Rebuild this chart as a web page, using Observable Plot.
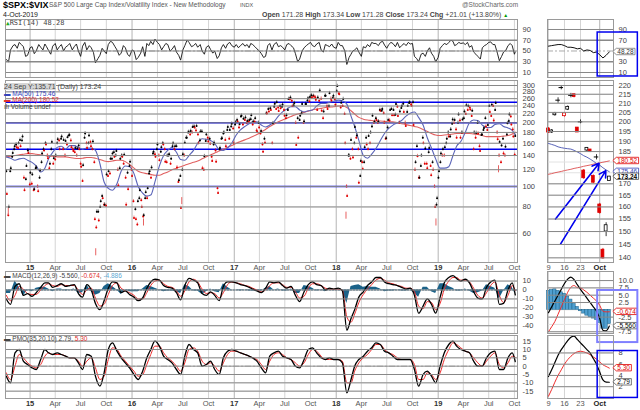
<!DOCTYPE html>
<html><head><meta charset="utf-8">
<script src="https://cdn.jsdelivr.net/npm/d3@7"></script>
<script src="https://cdn.jsdelivr.net/npm/@observablehq/plot@0.6"></script>
<style>
body{margin:0;background:#fff;}
#root{position:relative;width:640px;height:410px;overflow:hidden;font-family:"Liberation Sans",Arial,sans-serif;color:#222;}
.abs{position:absolute;white-space:nowrap;line-height:1;}
.abs svg{display:block;overflow:visible;}
</style></head><body><div id="root"></div>
<script>
// ---------- DATA ----------
// Weekly closes ($SPX:$VIX), Fridays from 10-Oct-2014 to 4-Oct-2019
const close2014 = [92,80,122,144, 155,153,160,155, 172,96,125,144];
const close2015 = [116,114,97,123,95, 119,143,148,158, 136,128,162,136, 140,167,150,172, 166,164,171,175,153, 147,152,151,150, 124,126,178,152,174, 155,163,70,76, 69,85,88,82, 114,118,135,143,138, 147,101,135,138, 141,82,97,131];
const close2016 = [112,71,70,85,96, 80,73,94,98, 118,123,146,138, 158,133,153,158,131, 140,142,135,160, 155,123,107,79, 142,161,170,181,183, 191,190,193,160, 182,122,139,176,163, 159,132,161,131, 93,152,169,180, 155,191,185,198,160];
const close2017 = [201,203,197,216, 209,212,204,206, 217,203,210,181,190, 183,146,161,221, 226,230,199,246, 250,227,234,244,216, 217,259,263,240, 248,157,170,216, 245,203,245,261,265, 264,266,257,263, 284,228,226,268, 232,276,255,268,243];
const close2018 = [298,273,249,259, 160,90,140,166, 137,191,174,104,132, 121,153,158,173, 180,216,202,206, 203,228,232,200,169, 206,230,217,217, 245,215,226,240,225, 193,240,250,241, 195,130,139,110, 140,160,151,122,152, 113,120,80,88];
const close2019 = [118,143,150,153, 168,172,186,207, 206,170,219,170,207, 226,242,240,231, 228,180,179,178,147, 176,189,192,195, 225,243,205,248, 167,162,156,143,154, 199,219,196,172, 173.24];
// Mid-week closes (Wednesdays), 8-Oct-2014 to 2-Oct-2019
const mid2014 = [118,73,118,138, 150,158,152,166, 165,110,108,148];
const mid2015 = [102,103,96,122,100, 110,130,150,160, 140,122,150,128, 134,160,165,168, 150,140,158,174,165, 150,145,140,156, 128,106,170,160,160, 162,150,130,64, 76,80,90,82, 81,112,115,135,145, 140,120,122,140, 128,110,116,125];
const mid2016 = [120,85,78,66,88, 86,72,88,88, 115,110,143,142, 150,140,146,160,150, 130,140,128,155, 150,155,105,112, 120,140,170,180,176, 180,192,184,176, 165,182,120,164,170, 168,138,158,148, 98,150,168,178, 166,185,168,192,188];
const mid2017 = [196,206,190,214, 196,206,200,202, 208,196,202,184,200, 178,158,168,222, 232,234,160,238, 232,236,240,238,230, 210,230,258,254, 242,200,210,206, 222,200,245,255,252, 270,268,264,230, 254,260,210,268, 240,240,260,262,258];
const mid2018 = [282,275,236,240, 220,100,140,135, 150,160,170,150,112, 130,130,170,150, 160,192,200,210, 200,230,228,222,168, 190,205,232,230, 218,238,200,235,246, 200,225,248,244, 250,120,155,110, 125,170,128,128,145, 125,130,100,82];
const mid2019 = [110,130,140,140, 160,180,172,198, 200,186,200,205,180, 210,220,230,236, 215,150,170,200,155, 175,185,210,185, 240,215,240,230, 180,140,130,168,140, 176,204,214,186, 141];
// Daily extremes (intraday spikes)
const spikeDates = ["2014-10-15","2015-08-24","2016-02-11","2016-06-27","2018-02-05","2018-12-24","2019-08-05"];
const spikeValues = [73,47,65,82,70,65,116];

// Semi-monthly samples (8th and 23rd of each month), Oct 2014 .. Sep 2019, plus 4-Oct-2019
const ma50 = [138,136,133,135,136,133,
 130,125,117,122,135,145,153,155,150,156,156,153,150,152,152,148,128,105,98,96,103,118,125,124,
 115,100,93,90,91,105,125,140,148,153,145,134,133,140,148,160,168,167,165,160,149,148,152,160,
 175,185,192,198,202,202,195,191,195,202,215,225,232,238,238,230,225,228,230,240,247,247,250,253,
 256,254,245,215,192,165,140,136,142,151,165,178,188,195,200,205,215,222,225,212,195,170,152,135,
 122,122,124,140,155,163,180,200,206,205,195,190,190,196,198,192,189,184,175.46];
const ma200 = [138,139,140,141,142,143,
 143,142,141,140,139,139,138,138,138,137,136,135.6,136,137,137,136,134,132,131,132,133,133,131,127,
 122,118,116,115,114,113,113,115,117,120,122,124,126,128,130,132,135,138,141,144,147,150,153,156,
 160,163,166,169,172,176,181,186,192,197,202,206,210,214,218,221,224,227,230,232,234,236,237,238,
 240,240,236,228,220,212,208,206,205,204,204,203,202,202,200,198,196,194,192,190,186,182,178,175,
 174,175,176,177,178,178,178,178,177,176,174,172,172,172,172,173,174,177,180.52];
const rsi = [34,52,62,66,58,42,
 58,50,57,63,51,59,52,62,57,64,58,50,59,52,56,28,42,50,62,66,52,46,56,40,
 50,38,58,64,68,72,62,58,62,53,48,33,60,66,60,57,50,57,53,50,41,62,63,60,
 62,60,59,56,62,54,45,40,64,62,58,57,62,60,45,35,56,63,60,63,52,62,58,57,
 66,60,25,44,52,48,58,62,66,64,66,61,62,64,66,60,60,63,40,30,46,50,46,30,
 55,64,66,68,62,64,62,57,48,40,56,62,67,62,32,48,60,60,48.28];
// RSI on the 16th and 1st of each month (16-Oct-2014 .. 1-Oct-2019)
const rsiMid = [30,60,55,62,40,56,
 45,62,52,58,44,64,58,50,60,52,63,40,66,60,47,36,55,45,68,58,42,60,44,52,
 34,46,40,60,62,66,52,64,50,60,42,52,70,58,64,62,44,60,46,36,56,55,66,57,
 56,64,62,64,58,50,38,60,52,66,60,52,64,56,30,50,60,66,58,66,48,60,63,55,
 60,50,38,50,56,40,56,58,64,60,68,55,66,58,56,64,66,64,36,44,40,56,40,38,
 60,62,70,60,66,65,66,60,44,35,60,66,62,46,40,52,64,44];
const macd = [-10,-16,4,7,-6,-4,
 -7,-3,3,8,8,3,5,7,4,5,6,-4,-8,6,0,-15,-22,-12,2,9,8,-3,-1,-5,
 -8,-12,-9,2,9,12,11,5,3,2,-3,-11,5,13,11,8,-4,-6,-2,-6,-12,4,9,9,
 8,6,5,3,1,-1,-3,2,9,8,9,5,2,4,-6,-13,-2,6,9,6,5,0,2,1,
 2,-1,-45,-32,-22,-8,-2,5,9,14,14,9,7,6,5,3,1,2,-6,-26,-18,-10,-16,-26,
 -8,8,14,16,13,10,12,8,-2,-9,-10,3,9,11,-16,-15,0,8,-5.56];
const macdSignal = [-6,-12,-6,4,1,-4,
 -5,-5,0,5,7,5,4,6,5,5,5,0,-5,0,2,-9,-18,-16,-5,5,8,2,-1,-3,
 -6,-10,-10,-3,5,10,11,7,4,3,-1,-7,-1,9,12,9,1,-4,-3,-4,-9,-3,6,9,
 8,7,5,4,2,0,-2,0,5,8,8,6,3,3,-2,-9,-7,2,7,7,5,2,1,1,
 1,0,-30,-36,-27,-14,-5,1,6,11,13,11,8,7,5,4,2,2,-2,-18,-21,-13,-14,-22,
 -15,1,10,14,14,11,11,9,2,-6,-9,-3,5,9,-6,-14,-6,5,-0.674];
const macdHist = [-4,-4,10,3,-7,0,
 -2,2,3,3,1,-2,1,1,-1,0,1,-4,-3,6,-2,-6,-4,4,7,4,0,-5,0,-2,
 -2,-2,1,5,4,2,0,-2,-1,-1,-2,-4,6,4,-1,-1,-5,-2,1,-2,-3,7,3,0,
 0,-1,0,-1,-1,-1,-1,2,4,0,1,-1,-1,1,-4,-4,5,4,2,-1,0,-2,1,0,
 1,-1,-15,4,5,6,3,4,3,3,1,-2,-1,-1,0,-1,-1,0,-4,-8,3,3,-2,-4,
 7,7,4,2,-1,-1,1,-1,-4,-3,-1,6,4,2,-10,-1,6,3,-4.886];
const pmo = [-6,-10,8,10,3,1,
 -1,-2,4,10,8,7,8,7,6,5,5,2,-2,7,6,-6,-12,-4,10,14,9,5,2,-1,
 -5,-8,-3,5,10,15,12,6,4,2,-2,-5,6,13,10,8,0,1,3,-2,-5,5,9,10,
 9,8,7,6,5,3,-1,-4,6,8,9,6,5,4,0,-1,4,10,11,8,5,4,5,4,
 4,2,-16,-8,0,4,6,9,11,14,13,9,8,6,4,4,4,4,-2,-12,-5,-3,-6,-10,
 0,8,13,15,12,10,9,8,3,0,0,5,8,9,-2,-2,5,8,2.79];
const pmoSignal = [-4,-8,0,7,5,2,
 0,-1,1,6,8,7,7,7,6,5,5,3,0,3,5,-1,-8,-6,4,11,10,6,3,0,
 -3,-6,-5,1,7,12,12,8,5,3,0,-3,2,10,11,9,3,1,2,0,-3,2,7,9,
 9,8,7,6,5,4,1,-2,3,7,8,7,5,4,2,0,2,7,10,9,6,4,4,4,
 4,3,-10,-10,-3,2,5,7,10,13,13,10,8,7,5,4,4,4,1,-8,-8,-4,-5,-8,
 -4,4,10,14,13,11,9,8,5,2,0,3,6,8,1,-1,2,6,5.30];

// Zoom panel: trading days 9-Sep-2019 .. 4-Oct-2019
const miniOpen  = [196.5,194.5,203.5,211.5,218.5,203,206.5,214.2,215,197,199.8,176,185.5,186,173.5,182.1,161,143,150,171.28];
const miniClose = [194.5,195.5,204.5,211.7,218.8,204.5,208,214.4,213.5,194.5,200,172.5,186.8,184.8,170.5,182.4,157.5,139.8,152.5,173.24];
const miniHigh  = [197,196,205,213,220,205,208.5,215.5,215,197,201,176.5,187,186,174,183.5,161.5,143.5,153.5,173.34];
const miniLow   = [194,194,203,210,217.5,202.5,206,213,213,194.5,199,172,185,184.5,170,181,157,139.5,148,171.28];
const miniPrevClose = 199;
const miniMa50  = [189,188.5,188,187.3,186.9,186.6,186.4,186.2,185.6,184.8,184,183,182.3,181.4,180.4,179.3,178.5,177.3,176.3,175.46];
const miniMa200 = [174.3,174.6,175,175.3,175.6,176,176.3,176.6,177,177.3,177.6,178,178.3,178.6,179,179.3,179.6,179.9,180.2,180.52];
const miniRsi   = [59,60,61,62,62,60,57,57,56,54,55,50,52,51,47,48,43,37,42,48.28];
const miniMacd  = [-1,1,3,5,7,9,10.5,11.2,10.3,8.6,7,5.5,4,2.5,1,-0.5,-3,-7,-7.2,-5.56];
const miniSignal= [-7.5,-5.8,-4,-1.5,1,3.5,6,7.7,8.3,7.6,7.5,6.8,6,5,4,3,1.5,-0.5,-0.7,-0.674];
const miniHist  = [6.5,6.8,7,6.5,6,5.5,4.5,3.5,2,1,-0.5,-1.3,-2,-2.5,-3,-3.5,-4.5,-6.5,-6.5,-4.886];
const miniPmo   = [3.8,5,6.3,7.6,8.6,9.4,10.2,10.8,11,10.4,9.8,9.2,8.6,8,7,6,4.6,3.2,2.8,2.79];
const miniPmoSig= [0.3,1.5,2.8,4,5,6,6.8,7.4,7.9,8.2,8.3,8.2,8,7.7,7.3,6.9,6.4,5.9,5.6,5.3];

// annotations on the zoom panel (index, value)
const arrowsFrom = [[2.2,155],[3.8,145.2]];
const arrowsTo   = [[15.8,179.4],[17.9,176]];

// axis ticks & labels
const monthNames = ["Jan","Feb","Mar","Apr","May","Jun","Jul","Aug","Sep","Oct","Nov","Dec"];
const priceTicks = [300,280,260,240,220,200,180,160,140,120,100,80,60];
const blueLevels = [250,200,150,100];
const rsiTicks = [90,70,50,30,10];
const macdTicks = [10,0,-10,-20,-30,-40];
const pmoTicks = [15,10,5,0,-5,-10,-15];
const miniRsiTicks = [90,70,30,10];
const miniPriceTicks = [220,215,210,205,200,195,190,185,170,165,160,155,150,145,140];
const miniPriceGrid = [220,215,210,205,200,195,190,185,180,175,170,165,160,155,150,145,140];
const miniMacdTicks = [10,7.5,5,2.5,-2.5,-7.5];
const miniMacdGrid = [10,7.5,5,2.5,0,-2.5,-5,-7.5];
const miniPmoTicks = [8,6,4,2];
const miniXTicks = [0,5,10,16];
const miniXLabels = ["9","16","23","Oct"];

// ---------- BUILD ----------
const closes = [...close2014,...close2015,...close2016,...close2017,...close2018,...close2019];
const mids = [...mid2014,...mid2015,...mid2016,...mid2017,...mid2018,...mid2019];
const pts = [];
closes.forEach((c,i)=>{
  pts.push({date:new Date(Date.UTC(2014,9,8+7*i)), close:mids[i]});
  pts.push({date:new Date(Date.UTC(2014,9,10+7*i)), close:c});
});
pts.forEach((p,k)=>{ p.color = k===0 || p.close>=pts[k-1].close ? "#000" : "#e00000"; });
const spikes = spikeDates.map((d,i)=>({date:new Date(d), v:spikeValues[i]}));
const semi = ma50.map((_,k)=>({
  date: k<120 ? new Date(Date.UTC(2014,9+Math.floor(k/2),k%2?23:8)) : new Date(Date.UTC(2019,9,4)),
  ma50:ma50[k], ma200:ma200[k], rsi:rsi[k], macd:macd[k], sig:macdSignal[k], hist:macdHist[k], pmo:pmo[k], pmoSig:pmoSignal[k]}));
const rsiSeries = semi.map(d=>({date:d.date, rsi:d.rsi}))
  .concat(rsiMid.map((v,k)=>({date: k%2===0 ? new Date(Date.UTC(2014,9+k/2,16)) : new Date(Date.UTC(2014,9+(k+1)/2,1)), rsi:v})))
  .sort((a,b)=>a.date-b.date);
const mini = miniClose.map((c,i)=>{
  const prev = i? miniClose[i-1] : miniPrevClose;
  return {i, open:miniOpen[i], close:c, high:miniHigh[i], low:miniLow[i],
    color: c>=prev ? "#000" : "#e00000", hollow: c>miniOpen[i], doji: Math.abs(c-miniOpen[i])<0.5,
    ma50:miniMa50[i], ma200:miniMa200[i], rsi:miniRsi[i], macd:miniMacd[i], sig:miniSignal[i], hist:miniHist[i], pmo:miniPmo[i], pmoSig:miniPmoSig[i]};
});

const xDomain = [new Date(Date.UTC(2014,9,5)), new Date(Date.UTC(2019,9,12))];
const quarterTicks = [];
for (let y=2015;y<=2019;y++) for (const m of [0,3,6,9]) quarterTicks.push(new Date(Date.UTC(y,m,1)));
const yearTicks = quarterTicks.filter(d=>d.getUTCMonth()===0);
const monthTicks = quarterTicks.filter(d=>d.getUTCMonth()!==0);
const fmtDate = d => d.getUTCMonth()===0 ? String(d.getUTCFullYear()).slice(2) : monthNames[d.getUTCMonth()];

const root = document.getElementById("root");
function place(node, left, top){
  const d=document.createElement("div"); d.className="abs";
  d.style.left=left+"px"; d.style.top=top+"px"; d.appendChild(node); root.appendChild(d); return node;
}
function txt(html,left,top,style){
  const d=document.createElement("div"); d.className="abs";
  d.style.cssText+=`left:${left}px;top:${top}px;${style||""}`; d.innerHTML=html; root.appendChild(d);
}
// draws arrow-shaped value boxes behind the right-edge value labels
function boxLabels(svg, specs){
  const NS="http://www.w3.org/2000/svg";
  svg.querySelectorAll("text").forEach(t=>{
    const spec = specs.find(s=>s.t===t.textContent.trim());
    if (!spec) return;
    const b=t.getBBox();
    const p=document.createElementNS(NS,"path");
    const x0=b.x-1,x1=b.x+b.width+1,y0=b.y+0.3,y1=b.y+b.height-0.3,cy=(y0+y1)/2;
    p.setAttribute("d",`M${x0-3.5},${cy}L${x0},${y0}H${x1}V${y1}H${x0}Z`);
    p.setAttribute("fill","#fff"); p.setAttribute("stroke",spec.c); p.setAttribute("stroke-width","0.8");
    const tr=t.getAttribute("transform"); if (tr) p.setAttribute("transform",tr);
    t.parentNode.insertBefore(p,t);
  });
}
const baseStyle = {fontSize:"7.5px", fontFamily:"'Liberation Sans', Arial, sans-serif", background:"transparent", color:"#444", overflow:"visible"};
const GRID = "#e2e2e2", QGRID="#d4d4d4", YGRID="#b4b4b4", FRAME="#9a9a9a";
const leftGrid = () => [
  Plot.gridX(monthTicks,{stroke:QGRID,strokeOpacity:1}),
  Plot.gridX(yearTicks,{stroke:YGRID,strokeOpacity:1})
];
const yLabels = (ticks, fmt) => [
  Plot.tickY(ticks,{y:d=>d,frameAnchor:"right",stroke:"#888"}),
  Plot.text(ticks,{y:d=>d,text:fmt||(d=>String(d)),frameAnchor:"right",dx:5,textAnchor:"start",fill:"#444"})
];
const L = {width:545, marginLeft:5, marginRight:28, marginTop:0};
const R = {width:100, marginLeft:7, marginRight:27, marginTop:0};
const miniX = {type:"linear", domain:[-0.3,20.3]};
const miniGrid = () => [
  Plot.gridX(miniXTicks.slice(0,3),{stroke:QGRID,strokeOpacity:1}),
  Plot.gridX([16],{stroke:YGRID,strokeOpacity:1})
];
const vlabel = (data, fill, extra) => Plot.text(data,{x:"i",y:"v",text:"t",dx:8,textAnchor:"start",fontSize:6.5,fill,...(extra||{})});

// ---- LEFT PANELS ----
// RSI
place(Plot.plot({...L, height:58, marginBottom:0, style:baseStyle,
  x:{type:"utc",domain:xDomain,axis:null}, y:{domain:[0.7,108.6],axis:null},
  marks:[...leftGrid(),
    Plot.gridY([90,10],{stroke:GRID,strokeOpacity:1}),
    Plot.ruleY([70,30],{stroke:"#666"}),
    Plot.ruleY([50],{stroke:"#aaa",strokeDasharray:"6,2,2,2"}),
    Plot.line(rsiSeries,{x:"date",y:"rsi",stroke:"#111",strokeWidth:0.9}),
    ...yLabels(rsiTicks),
    Plot.frame({stroke:FRAME})]}), 0, 19);

// Price
place(Plot.plot({...L, height:192, marginBottom:10, style:baseStyle, color:{type:"identity"},
  x:{type:"utc",domain:xDomain}, y:{type:"log",domain:[43.7,316.8],axis:null},
  marks:[...leftGrid(),
    Plot.gridY(priceTicks,{stroke:GRID,strokeOpacity:1}),
    Plot.ruleY(blueLevels,{stroke:"#0000ee",strokeWidth:1.6}),
    Plot.line(semi,{x:"date",y:"ma200",stroke:"#e06060",strokeWidth:1.1,curve:"monotone-x"}),
    Plot.line(semi,{x:"date",y:"ma50",stroke:"#5a64b8",strokeWidth:1.1,curve:"monotone-x"}),
    Plot.ruleX(pts,{x:"date",y1:d=>d.close*0.985,y2:d=>d.close*1.02,stroke:"color",strokeWidth:0.8,strokeOpacity:0.6}),
    Plot.dot(pts,{x:"date",y:"close",r:1,fill:"color",stroke:null}),
    Plot.ruleX(spikes,{x:"date",y1:d=>d.v,y2:d=>d.v*1.08,stroke:"#e86060",strokeWidth:1}),
    ...yLabels(priceTicks),
    Plot.axisX(monthTicks,{tickSize:0,tickPadding:2,tickFormat:fmtDate,fill:"#555"}),
    Plot.axisX(yearTicks,{tickSize:0,tickPadding:2,tickFormat:fmtDate,fill:"#333",fontWeight:"bold"}),
    Plot.frame({stroke:FRAME})]}), 0, 80);

// MACD
place(Plot.plot({...L, height:62, marginBottom:0, style:baseStyle,
  x:{type:"utc",domain:xDomain,axis:null}, y:{domain:[-48.7,20.7],axis:null},
  marks:[...leftGrid(),
    Plot.gridY(macdTicks,{stroke:GRID,strokeOpacity:1}),
    Plot.areaY(semi,{x:"date",y:"hist",fill:"#1b6289",curve:"linear"}),
    Plot.ruleY([0],{stroke:"#1b6289",strokeWidth:0.8,strokeDasharray:"2,1"}),
    Plot.line(semi,{x:"date",y:"sig",stroke:"#ee2b2b",strokeWidth:1,curve:"monotone-x"}),
    Plot.line(semi,{x:"date",y:"macd",stroke:"#000",strokeWidth:1.3,curve:"monotone-x"}),
    ...yLabels(macdTicks),
    Plot.frame({stroke:FRAME})]}), 0, 271);

// PMO
place(Plot.plot({...L, height:73, marginBottom:10, style:baseStyle,
  x:{type:"utc",domain:xDomain}, y:{domain:[-19.4,18.4],axis:null},
  marks:[...leftGrid(),
    Plot.gridY(pmoTicks.filter(d=>d!==0),{stroke:GRID,strokeOpacity:1}),
    Plot.ruleY([0],{stroke:"#bbb",strokeDasharray:"6,2,2,2"}),
    Plot.line(semi,{x:"date",y:"pmoSig",stroke:"#ee2b2b",strokeWidth:1,curve:"monotone-x"}),
    Plot.line(semi,{x:"date",y:"pmo",stroke:"#000",strokeWidth:1.3,curve:"monotone-x"}),
    ...yLabels(pmoTicks),
    Plot.axisX(monthTicks,{tickSize:0,tickPadding:2,tickFormat:fmtDate,fill:"#555"}),
    Plot.axisX(yearTicks,{tickSize:0,tickPadding:2,tickFormat:fmtDate,fill:"#333",fontWeight:"bold"}),
    Plot.frame({stroke:FRAME})]}), 0, 335);

// ---- ZOOM PANELS ----
let s;
s = place(Plot.plot({...R, height:58, marginBottom:0, style:baseStyle,
  x:{...miniX,axis:null}, y:{domain:[0.7,108.6],axis:null},
  marks:[...miniGrid(),
    Plot.gridY([90,10],{stroke:GRID,strokeOpacity:1}),
    Plot.ruleY([70,30],{stroke:"#666"}),
    Plot.ruleY([50],{stroke:"#aaa",strokeDasharray:"6,2,2,2"}),
    Plot.line(mini,{x:"i",y:"rsi",stroke:"#111",strokeWidth:1}),
    ...yLabels(miniRsiTicks),
    Plot.frame({stroke:FRAME}),
    vlabel([{i:19,v:48.28,t:"48.28"}],"#333"),
    Plot.rect([{x1:15.36,x2:27.9,y1:84.4,y2:2.6}],{x1:"x1",x2:"x2",y1:"y1",y2:"y2",fill:null,stroke:"#0000ee",strokeWidth:1.5})
  ]}), 540, 19);
boxLabels(s,[{t:"48.28",c:"#777"}]);

s = place(Plot.plot({...R, height:192, marginBottom:10, style:baseStyle, color:{type:"identity"},
  x:miniX, y:{type:"log",domain:[138.3,222.9],axis:null},
  marks:[...miniGrid(),
    Plot.gridY(miniPriceGrid,{stroke:GRID,strokeOpacity:1}),
    Plot.line(mini,{x:"i",y:"ma200",stroke:"#e06060",strokeWidth:1}),
    Plot.line(mini,{x:"i",y:"ma50",stroke:"#5a64b8",strokeWidth:1}),
    Plot.ruleX(mini,{x:"i",y1:"low",y2:"high",stroke:"color",strokeWidth:0.8}),
    Plot.rect(mini.filter(d=>!d.doji),{x1:d=>d.i-0.45,x2:d=>d.i+0.45,y1:"open",y2:"close",fill:d=>d.hollow?"#fff":d.color,stroke:"color",strokeWidth:0.8}),
    Plot.ruleY(mini.filter(d=>d.doji),{x1:d=>d.i-0.7,x2:d=>d.i+0.7,y:"close",stroke:"color",strokeWidth:1}),
    Plot.arrow(arrowsFrom.map((f,k)=>({x1:f[0],y1:f[1],x2:arrowsTo[k][0],y2:arrowsTo[k][1]})),{x1:"x1",y1:"y1",x2:"x2",y2:"y2",stroke:"#0000ee",strokeWidth:1.6,headLength:7}),
    ...yLabels(miniPriceTicks),
    Plot.axisX(miniXTicks.slice(0,3),{tickSize:0,tickPadding:2,tickFormat:(d)=>miniXLabels[miniXTicks.indexOf(d)],fill:"#555"}),
    Plot.axisX([16],{tickSize:0,tickPadding:2,tickFormat:()=>miniXLabels[3],fill:"#222",fontWeight:"bold"}),
    Plot.frame({stroke:FRAME}),
    vlabel([{i:19,v:180.52,t:"180.52"}],"#e00000"),
    vlabel([{i:19,v:175.46,t:"175.46"}],"#3344bb"),
    vlabel([{i:19,v:173.24,t:"173.24"}],"#000",{fontWeight:"bold"})
  ]}), 540, 80);
boxLabels(s,[{t:"180.52",c:"#e00000"},{t:"175.46",c:"#3344bb"},{t:"173.24",c:"#444"}]);

s = place(Plot.plot({...R, height:62, marginBottom:0, style:baseStyle,
  x:{...miniX,axis:null}, y:{domain:[-8.1,13.1],axis:null},
  marks:[...miniGrid(),
    Plot.gridY(miniMacdGrid,{stroke:GRID,strokeOpacity:1}),
    Plot.rectY(mini,{x1:d=>d.i-0.5,x2:d=>d.i+0.5,y:"hist",fill:"#4f9fd0",stroke:"#1b6289",strokeWidth:0.5}),
    Plot.line(mini,{x:"i",y:"sig",stroke:"#ee2b2b",strokeWidth:1,curve:"monotone-x"}),
    Plot.line(mini,{x:"i",y:"macd",stroke:"#000",strokeWidth:1.2,curve:"monotone-x"}),
    ...yLabels(miniMacdTicks,d=>d.toFixed(1)),
    Plot.frame({stroke:FRAME}),
    vlabel([{i:19,v:-0.674,t:"-0.674"}],"#e00000"),
    vlabel([{i:19,v:-5.56,t:"-5.560"}],"#000"),
    Plot.rect([{x1:15.36,x2:27.9,y1:6.6,y2:-11.2}],{x1:"x1",x2:"x2",y1:"y1",y2:"y2",fill:null,stroke:"#8080ff",strokeWidth:2})
  ]}), 540, 271);
boxLabels(s,[{t:"-0.674",c:"#e00000"},{t:"-5.560",c:"#555"}]);

s = place(Plot.plot({...R, height:73, marginBottom:10, style:baseStyle,
  x:miniX, y:{domain:[-0.1,11.1],axis:null},
  marks:[...miniGrid(),
    Plot.gridY(miniPmoTicks,{stroke:GRID,strokeOpacity:1}),
    Plot.line(mini,{x:"i",y:"pmoSig",stroke:"#ee2b2b",strokeWidth:1,curve:"monotone-x"}),
    Plot.line(mini,{x:"i",y:"pmo",stroke:"#000",strokeWidth:1.2,curve:"monotone-x"}),
    ...yLabels(miniPmoTicks),
    Plot.axisX(miniXTicks.slice(0,3),{tickSize:0,tickPadding:2,tickFormat:(d)=>miniXLabels[miniXTicks.indexOf(d)],fill:"#555"}),
    Plot.axisX([16],{tickSize:0,tickPadding:2,tickFormat:()=>miniXLabels[3],fill:"#222",fontWeight:"bold"}),
    Plot.frame({stroke:FRAME}),
    vlabel([{i:19,v:5.30,t:"5.30"}],"#e00000"),
    vlabel([{i:19,v:2.79,t:"2.79"}],"#000"),
    Plot.rect([{x1:15.36,x2:27.9,y1:8.34,y2:0}],{x1:"x1",x2:"x2",y1:"y1",y2:"y2",fill:null,stroke:"#0000ee",strokeWidth:1.5})
  ]}), 540, 335);
boxLabels(s,[{t:"5.30",c:"#e00000"},{t:"2.79",c:"#555"}]);

// ---- TEXT ----
txt("$SPX:$VIX",3,1,"font-size:9px;font-weight:bold;color:#000;");
txt("S&amp;P 500 Large Cap Index/Volatility Index - New Methodology",49,2,"font-size:6.5px;color:#555;");
txt("INDX",240,2.5,"font-size:5.5px;color:#555;");
txt("4-Oct-2019",3,11,"font-size:7px;color:#222;");
txt("@StockCharts.com",462,2,"font-size:6.5px;color:#666;");
txt("<b>Open</b> 171.28 <b>High</b> 173.34 <b>Low</b> 171.28 <b>Close</b> 173.24 <b>Chg</b> +21.01 (+13.80%) <span style='color:#090;font-size:5px'>▲</span>",262,11,"font-size:7px;color:#444;");
txt("<span style='color:#2a2;font-size:6px'>▲</span>RSI(14) 48.28",6,20,"font-size:7px;color:#444;font-family:'DejaVu Sans Mono',monospace;");
txt("<span style='background:#d6d6d6'>24 Sep Y:135.71</span> (Daily) 173.24",4,83,"font-size:7px;color:#444;");
txt("<span style='color:#3344bb'>▬ MA(50) 175.46</span>",4,90.5,"font-size:6.5px;color:#3344bb;");
txt("<span style='color:#e03030'>▬ MA(200) 180.52</span>",4,97,"font-size:6.5px;");
txt("ılı Volume undef",4,104,"font-size:6.5px;color:#333;");
txt("▬ MACD(12,26,9) -5.560, <span style='color:#e03030'>-0.674</span>, <span style='color:#5fa8d3'>-4.886</span>",4,273,"font-size:6.5px;color:#444;");
txt("▬ PMO(35,20,10) 2.79, <span style='color:#e03030'>5.30</span>",4,336,"font-size:6.5px;color:#444;");
</script></body></html>
